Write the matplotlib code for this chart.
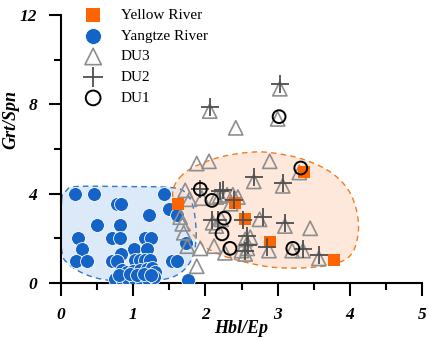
import numpy as np
import matplotlib
matplotlib.use('Agg')
import matplotlib.pyplot as plt
from matplotlib.ticker import MultipleLocator

plt.rcParams['font.family'] = ['Liberation Serif', 'DejaVu Serif']

# Yellow River (orange squares)
yellow_x = [1.62, 2.41, 2.55, 2.89, 3.36, 3.78]
yellow_y = [3.55, 3.60, 2.85, 1.85, 4.97, 1.05]

# Yangtze River (blue circles)
yangtze_x = [0.19, 0.46, 1.43, 0.78, 0.83, 1.22, 1.50, 1.61, 0.50, 0.82,
             0.24, 0.71, 0.82, 1.16, 1.25, 1.73, 0.29, 1.01, 1.19, 0.83,
             0.21, 0.36, 0.71, 0.78, 1.02, 1.09, 1.16, 1.23, 1.54, 1.61,
             0.85, 0.91, 1.00, 1.09, 1.19, 1.26, 1.30, 0.75, 0.85, 0.93,
             1.02, 1.11, 1.20, 1.29, 1.76, 0.80, 0.95, 1.05, 1.15, 1.25]
yangtze_y = [4.00, 4.00, 4.00, 3.55, 3.55, 3.05, 3.30, 3.05, 2.60, 2.60,
             2.00, 2.00, 2.00, 2.00, 2.00, 1.80, 1.50, 1.50, 1.50, 1.30,
             1.00, 1.00, 1.00, 1.00, 1.05, 1.05, 1.05, 1.05, 1.00, 1.00,
             0.58, 0.50, 0.54, 0.58, 0.63, 0.67, 0.50, 0.18, 0.18, 0.18,
             0.18, 0.18, 0.18, 0.27, 0.15, 0.35, 0.40, 0.35, 0.40, 0.35]

# DU3 (grey triangles)
du3_x = [3.03, 2.06, 3.00, 2.42, 1.88, 2.05, 2.89, 1.72, 1.78, 1.95,
         2.15, 2.30, 2.38, 2.35, 2.45, 1.65, 1.68, 1.70, 1.75, 1.93,
         2.12, 2.27, 1.88, 2.22, 2.15, 2.55, 2.50, 2.58, 2.62, 2.88,
         3.10, 3.45, 3.30, 2.75, 3.20, 3.35, 3.57, 2.55, 2.67, 3.07,
         2.20, 2.10]
du3_y = [8.70, 7.70, 7.35, 6.95, 5.35, 5.45, 5.45, 4.15, 3.75, 3.80,
         3.85, 3.95, 3.95, 3.55, 3.85, 2.95, 2.65, 2.25, 1.65, 1.55,
         1.65, 1.35, 0.75, 2.85, 2.55, 1.95, 1.45, 1.55, 2.05, 1.45,
         2.55, 2.45, 4.95, 2.85, 1.45, 1.45, 1.10, 1.30, 4.55, 4.35,
         3.90, 2.70]

# DU2 (dark grey pluses)
du2_x = [3.03, 2.06, 2.67, 3.07, 2.20, 1.93, 2.25, 2.80, 3.10, 2.52,
         2.09, 2.18, 2.58, 2.59, 2.55, 2.85, 3.35, 3.57, 2.40]
du2_y = [8.90, 7.90, 4.75, 4.50, 4.10, 4.20, 4.15, 2.95, 2.70, 2.80,
         2.80, 2.80, 2.10, 1.70, 1.45, 1.60, 1.50, 1.25, 3.70]

# DU1 (black open circles)
du1_x = [1.93, 2.09, 2.26, 2.23, 2.34, 3.02, 3.32, 3.21]
du1_y = [4.20, 3.70, 2.90, 2.20, 1.55, 7.45, 5.15, 1.55]

# outline of the Yangtze field
blue_field_x = [0.01, 0.07, 0.21, 0.82, 1.51, 1.73, 1.84, 1.87, 1.79, 1.58,
                1.23, 0.75, 0.40, 0.12, 0.01]
blue_field_y = [3.72, 4.12, 4.32, 4.32, 4.28, 4.03, 3.27, 1.93, 0.94, 0.31,
                0.09, 0.09, 0.31, 0.81, 1.48]

# outline of the Yellow River field
orange_field_x = [1.68, 1.55, 1.59, 1.73, 1.93, 2.15, 2.48, 2.89, 3.31, 3.73,
                  4.00, 4.11, 4.10, 3.98, 3.73, 3.38, 3.03, 2.69, 2.27, 1.93]
orange_field_y = [4.84, 4.16, 3.40, 2.64, 1.79, 1.34, 0.99, 0.72, 0.67, 0.81,
                  1.21, 2.10, 3.13, 4.16, 4.97, 5.51, 5.78, 5.87, 5.69, 5.33]


def smooth_closed(xs, ys, n=20):
    # periodic Catmull-Rom through the outline points
    p = np.column_stack([xs, ys])
    k = len(p)
    out = []
    for i in range(k):
        p0, p1, p2, p3 = p[i - 1], p[i], p[(i + 1) % k], p[(i + 2) % k]
        t = np.linspace(0, 1, n, endpoint=False)[:, None]
        seg = 0.5 * ((2 * p1) + (-p0 + p2) * t + (2 * p0 - 5 * p1 + 4 * p2 - p3) * t ** 2
                     + (-p0 + 3 * p1 - 3 * p2 + p3) * t ** 3)
        out.append(seg)
    out = np.vstack(out)
    out = np.vstack([out, out[:1]])
    return out[:, 0], out[:, 1]


fig, ax = plt.subplots(figsize=(4.29, 3.43), dpi=100)
fig.subplots_adjust(left=0.142, right=0.984, bottom=0.175, top=0.956)

bx, by = smooth_closed(blue_field_x, blue_field_y)
ax.fill(bx, by, color='#dce9f8', zorder=1, lw=0)
ax.plot(bx, by, color='#2f78d0', lw=1.0, ls=(0, (4, 3)), zorder=2)

ox, oy = smooth_closed(orange_field_x, orange_field_y)
ax.fill(ox, oy, color='#fde3d3', alpha=0.8, zorder=1.5, lw=0)
ax.plot(ox, oy, color='#f47a20', lw=1.0, ls=(0, (4, 3)), zorder=2)

ax.scatter(yangtze_x, yangtze_y, s=100, marker='o', color='#1464c8',
           edgecolors='white', linewidths=0.6, zorder=3, label='Yangtze River')
ax.scatter(du3_x, du3_y, s=105, marker='^', facecolors='none',
           edgecolors='#8e8e8e', linewidths=1.2, zorder=4, label='DU3')
ax.scatter(yellow_x, yellow_y, s=85, marker='s', color='#ff6400',
           linewidths=0, zorder=5, label='Yellow River')
ax.scatter(du2_x, du2_y, s=150, marker='+', color='#4f4f4f',
           linewidths=1.3, zorder=6, label='DU2')
ax.scatter(du1_x, du1_y, s=85, marker='o', facecolors='none',
           edgecolors='black', linewidths=1.4, zorder=7, label='DU1')

ax.set_xlim(0, 5)
ax.set_ylim(0, 12)
ax.xaxis.set_major_locator(MultipleLocator(1))
ax.xaxis.set_minor_locator(MultipleLocator(0.5))
ax.yaxis.set_major_locator(MultipleLocator(4))
ax.yaxis.set_minor_locator(MultipleLocator(2))

for side in ['top', 'right']:
    ax.spines[side].set_visible(False)
for side in ['left', 'bottom']:
    ax.spines[side].set_linewidth(1.5)
ax.tick_params(which='major', direction='out', length=9, width=1.5, pad=8)
ax.tick_params(which='minor', direction='out', length=5, width=1.5)
for lab in ax.get_xticklabels() + ax.get_yticklabels():
    lab.set_fontstyle('italic')
    lab.set_fontweight('bold')
    lab.set_fontsize(12.5)

ax.set_xlabel('Hbl/Ep', fontsize=13, fontweight='bold', fontstyle='italic')
ax.xaxis.set_label_coords(0.5, -0.14)
ax.set_ylabel('Grt/Spn', fontsize=13, fontweight='bold', fontstyle='italic')
ax.yaxis.set_label_coords(-0.115, 0.61)

h, l = ax.get_legend_handles_labels()
order = [2, 0, 1, 3, 4]
ax.legend([h[i] for i in order], [l[i] for i in order], loc='upper left',
          bbox_to_anchor=(0.03, 1.048), frameon=False, fontsize=11,
          markerscale=1.15, handletextpad=0.8, labelspacing=0.46,
          borderaxespad=0)

fig.savefig('out.png', dpi=100)
